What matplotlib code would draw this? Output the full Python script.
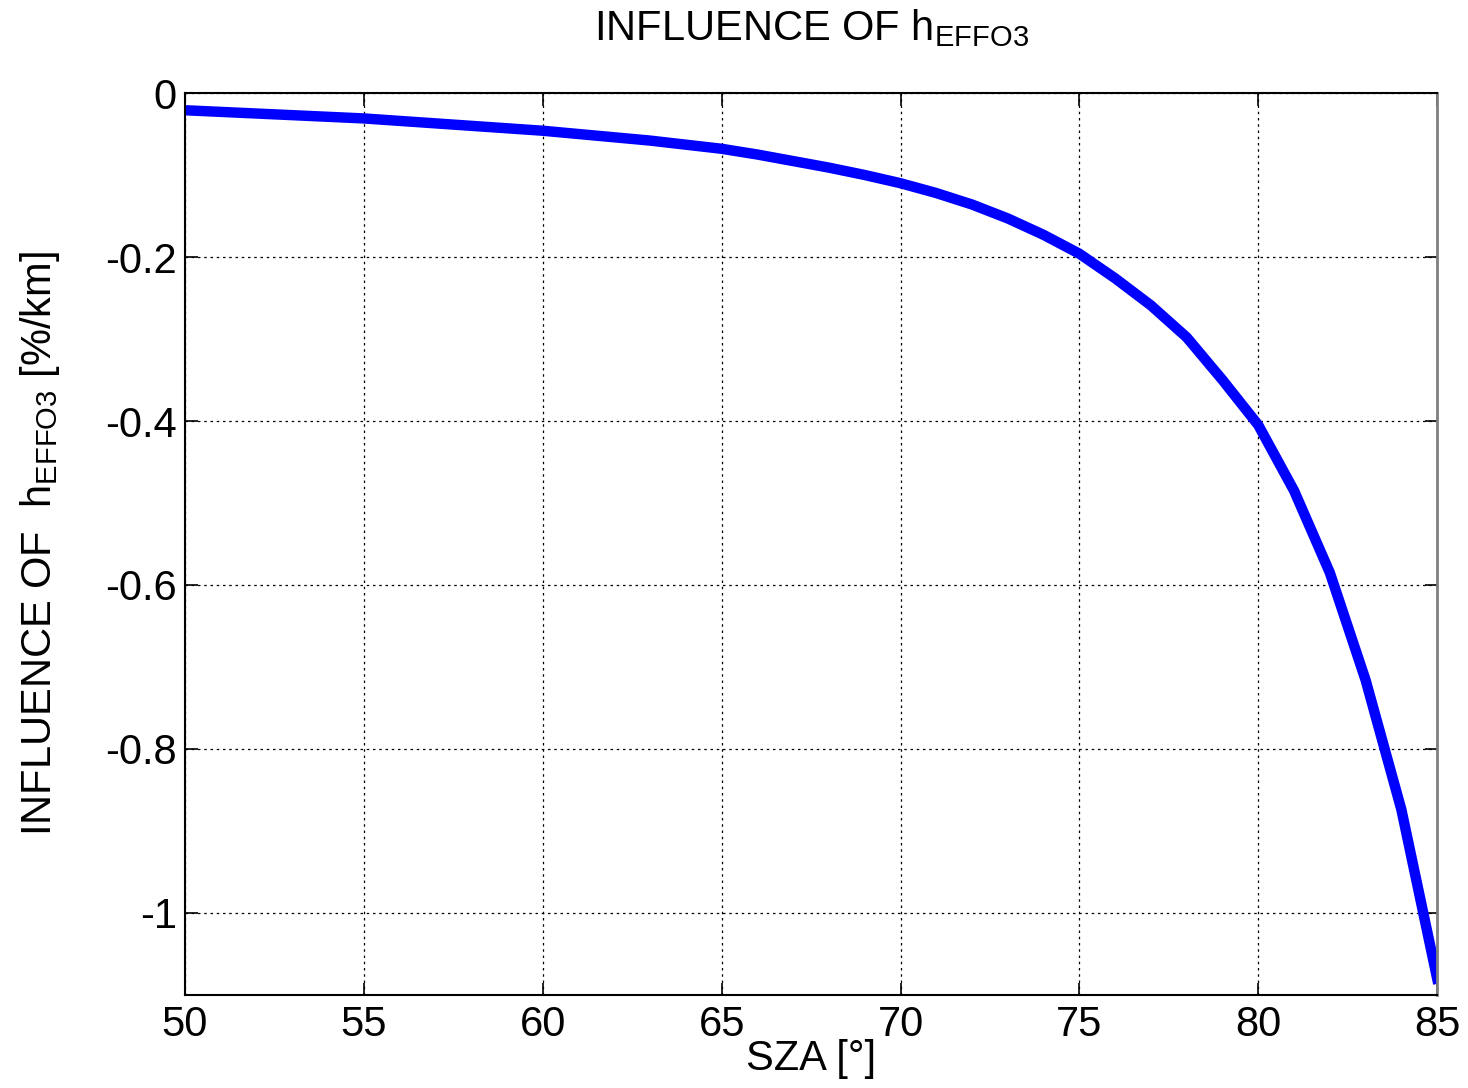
import numpy as np
import matplotlib.pyplot as plt

plt.rcParams['font.family'] = ['Liberation Sans', 'DejaVu Sans']
plt.rcParams['mathtext.fontset'] = 'custom'
plt.rcParams['mathtext.rm'] = 'Liberation Sans'
plt.rcParams['mathtext.it'] = 'Liberation Sans'
plt.rcParams['mathtext.default'] = 'rm'

# solar zenith angle [deg] and sensitivity [%/km]
sza = [50, 51, 52, 53, 54, 55, 56, 57, 58, 59, 60, 61, 62, 63, 64, 65, 66, 67,
       68, 69, 70, 71, 72, 73, 74, 75, 76, 77, 78, 79, 80, 81, 82, 83, 84, 85]
influence = [-0.021, -0.023, -0.025, -0.027, -0.029, -0.031, -0.034, -0.037,
             -0.040, -0.043, -0.046, -0.050, -0.054, -0.058, -0.063, -0.068,
             -0.075, -0.083, -0.091, -0.100, -0.110, -0.122, -0.136, -0.153,
             -0.173, -0.196, -0.226, -0.259, -0.298, -0.350, -0.405, -0.485,
             -0.585, -0.716, -0.874, -1.080]

xticks = [50, 55, 60, 65, 70, 75, 80, 85]
yticks = [0, -0.2, -0.4, -0.6, -0.8, -1.0]
ylabels = ['0', '-0.2', '-0.4', '-0.6', '-0.8', '-1']

fig = plt.figure(figsize=(14.68, 10.88), dpi=100)
ax = fig.add_axes([0.126, 0.0855, 0.853, 0.829])

ax.plot(sza, influence, color='#0000ff', lw=7.5, solid_joinstyle='miter')

ax.set_xlim(50, 85)
ax.set_ylim(-1.1, 0)
ax.set_xticks(xticks)
ax.set_yticks(yticks)
ax.set_yticklabels(ylabels)

ax.grid(True, color='black', linestyle=(0, (2, 3)), linewidth=0.9)
ax.tick_params(direction='in', length=9, width=1.2, labelsize=30,
               top=True, right=True, pad=6)
ax.tick_params(axis='x', pad=7)
for side in ['left', 'bottom', 'top']:
    ax.spines[side].set_linewidth(1.5)
ax.spines['right'].set_color('#808080')
ax.spines['right'].set_linewidth(2)

ax.set_title(r'INFLUENCE OF h$_{\mathrm{EFFO3}}$', fontsize=30, pad=38)
ax.set_xlabel('SZA [°]', fontsize=30, labelpad=-4)
ax.set_ylabel(r'INFLUENCE OF  h$_{\mathrm{EFFO3}}$ [%/km]', fontsize=30,
              labelpad=31)

fig.savefig('out.png', dpi=100)
